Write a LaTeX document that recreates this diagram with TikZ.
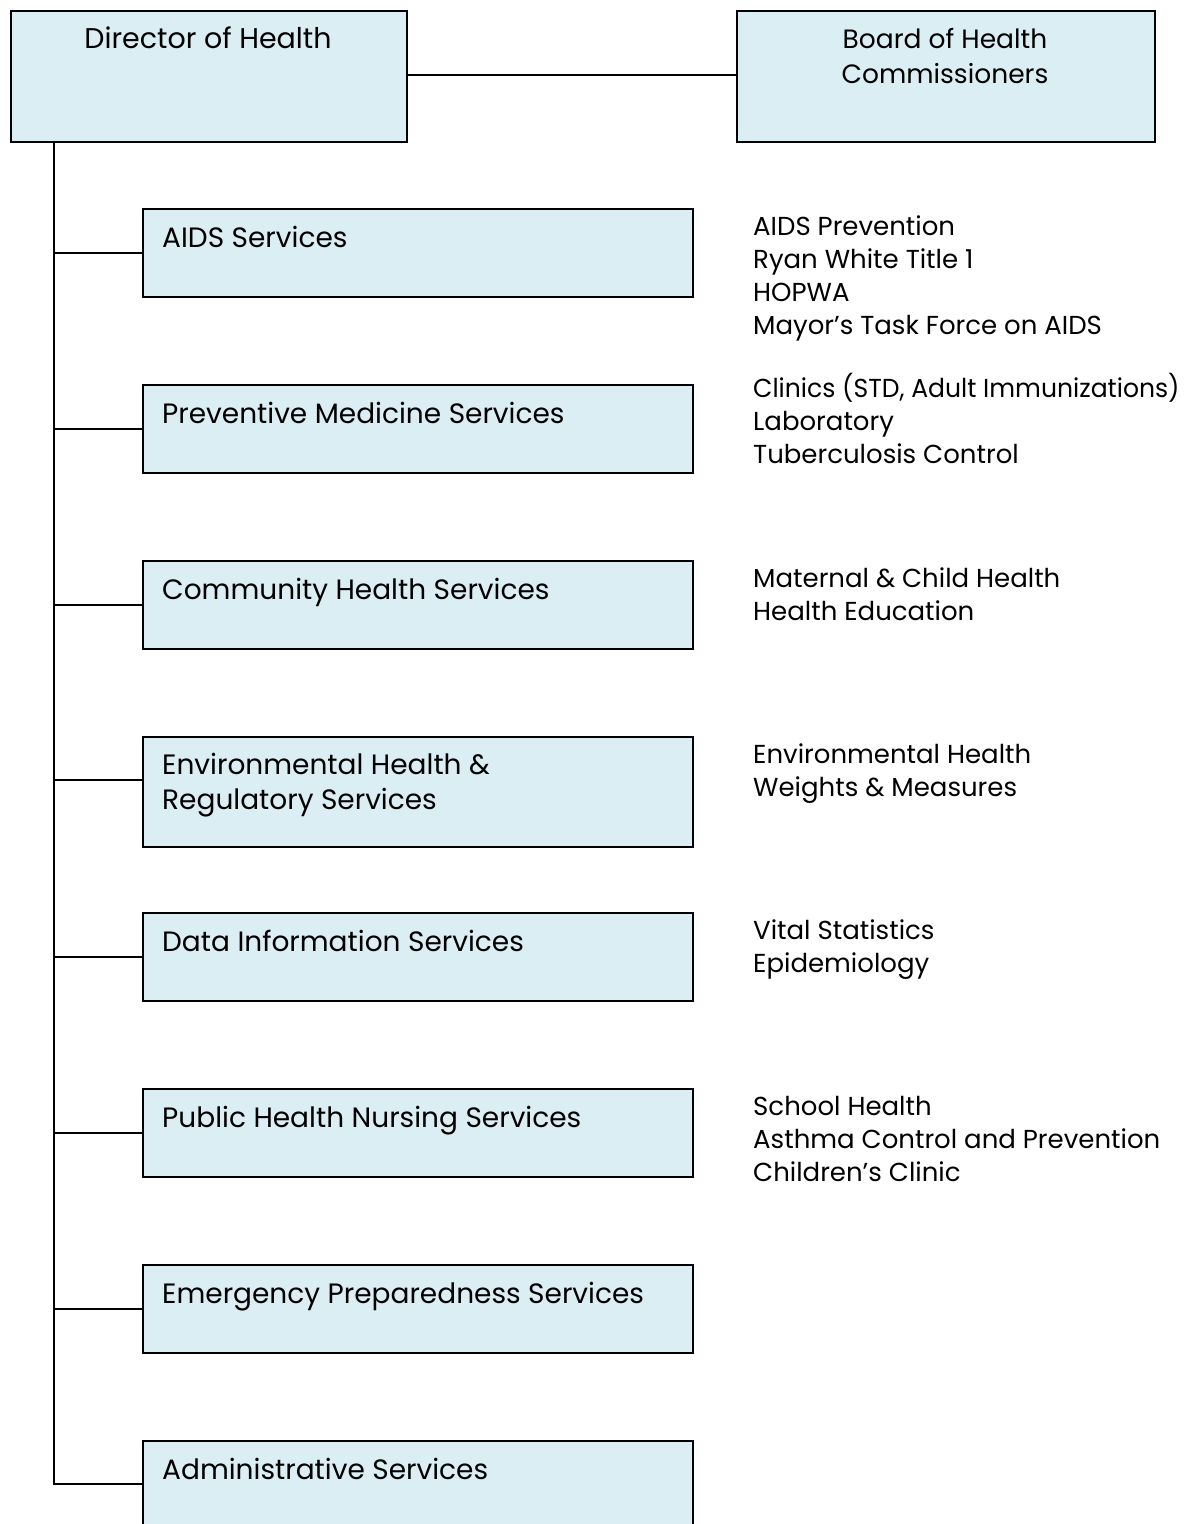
\documentclass[tikz,border=0pt]{standalone}
\usepackage{fontspec}
\setmainfont{Poppins}
\usetikzlibrary{calc}
\definecolor{boxfill}{HTML}{DBEEF4}
\tikzset{
  unitbox/.style={draw=black, fill=boxfill, line width=1.6pt, rectangle, inner sep=0pt, anchor=north west},
  lbl/.style={inner sep=0pt, anchor=base west, align=left, font=\fontsize{28}{35}\selectfont},
  lst/.style={inner sep=0pt, anchor=base west, align=left, font=\fontsize{26}{33}\selectfont},
  conn/.style={draw=black, line width=1.6pt}
}
\begin{document}
\begin{tikzpicture}[x=1pt,y=-1pt]
\useasboundingbox (0,0) rectangle (1193,1524);
% top boxes
\node[unitbox, minimum width=396pt, minimum height=131pt] (dir) at (10,10) {};
\node[unitbox, minimum width=418pt, minimum height=131pt] (board) at (736,10) {};
\node[inner sep=0pt, anchor=base, font=\fontsize{28.5}{35}\selectfont] (dirtxt) at (208,48) {Director of Health};
\node[inner sep=0pt, anchor=base, align=center, font=\fontsize{26.5}{35}\selectfont] (boardtxt) at (945,83) {Board of Health\\Commissioners};
\draw[conn] (dir.east |- 0,75) coordinate (dc) -- (board.west |- dc);
% unit boxes
\node[unitbox, minimum width=550pt, minimum height=88pt] (aids) at (142,208) {};
\node[unitbox, minimum width=550pt, minimum height=88pt] (prev) at (142,384) {};
\node[unitbox, minimum width=550pt, minimum height=88pt] (comm) at (142,560) {};
\node[unitbox, minimum width=550pt, minimum height=110pt] (env) at (142,736) {};
\node[unitbox, minimum width=550pt, minimum height=88pt] (data) at (142,912) {};
\node[unitbox, minimum width=550pt, minimum height=88pt] (nurse) at (142,1088) {};
\node[unitbox, minimum width=550pt, minimum height=88pt] (emer) at (142,1264) {};
\node[unitbox, minimum width=550pt, minimum height=110pt] (admin) at (142,1440) {};
% labels
\node[lbl] (aidst) at (162,247) {AIDS Services};
\node[lbl] (prevt) at (162,423) {Preventive Medicine Services};
\node[lbl] (commt) at (162,599) {Community Health Services};
\node[lbl] (envt) at (162,809) {Environmental Health \&\\Regulatory Services};
\node[lbl] (datat) at (162,951) {Data Information Services};
\node[lbl] (nurset) at (162,1127) {Public Health Nursing Services};
\node[lbl] (emert) at (162,1303) {Emergency Preparedness Services};
\node[lbl] (admint) at (162,1479) {Administrative Services};
% lists (anchored at baseline of last line)
\node[lst] (aidsl) at (753,334) {AIDS Prevention\\Ryan White Title 1\\HOPWA\\Mayor’s Task Force on AIDS};
\node[lst] (prevl) at (753,463) {\scalebox{0.965}[1]{Clinics (STD, Adult Immunizations)}\\Laboratory\\Tuberculosis Control};
\node[lst] (comml) at (753,620) {Maternal \& Child Health\\Health Education};
\node[lst] (envl) at (753,796) {Environmental Health\\Weights \& Measures};
\node[lst] (datal) at (753,972) {Vital Statistics\\Epidemiology};
\node[lst] (nursel) at (753,1181) {School Health\\Asthma Control and Prevention\\Children’s Clinic};
% trunk
\coordinate (ttop) at (54,141);
\coordinate (envc) at ($(env.north west)+(0,44)$);
\coordinate (adminc) at ($(admin.north west)+(0,44)$);
\draw[conn] (ttop) -- (ttop |- adminc) -- (adminc);
\foreach \b in {aids,prev,comm,data,nurse,emer}{
  \draw[conn] (ttop |- \b.west) -- (\b.west);
}
\draw[conn] (ttop |- envc) -- (envc);
\end{tikzpicture}
\end{document}
